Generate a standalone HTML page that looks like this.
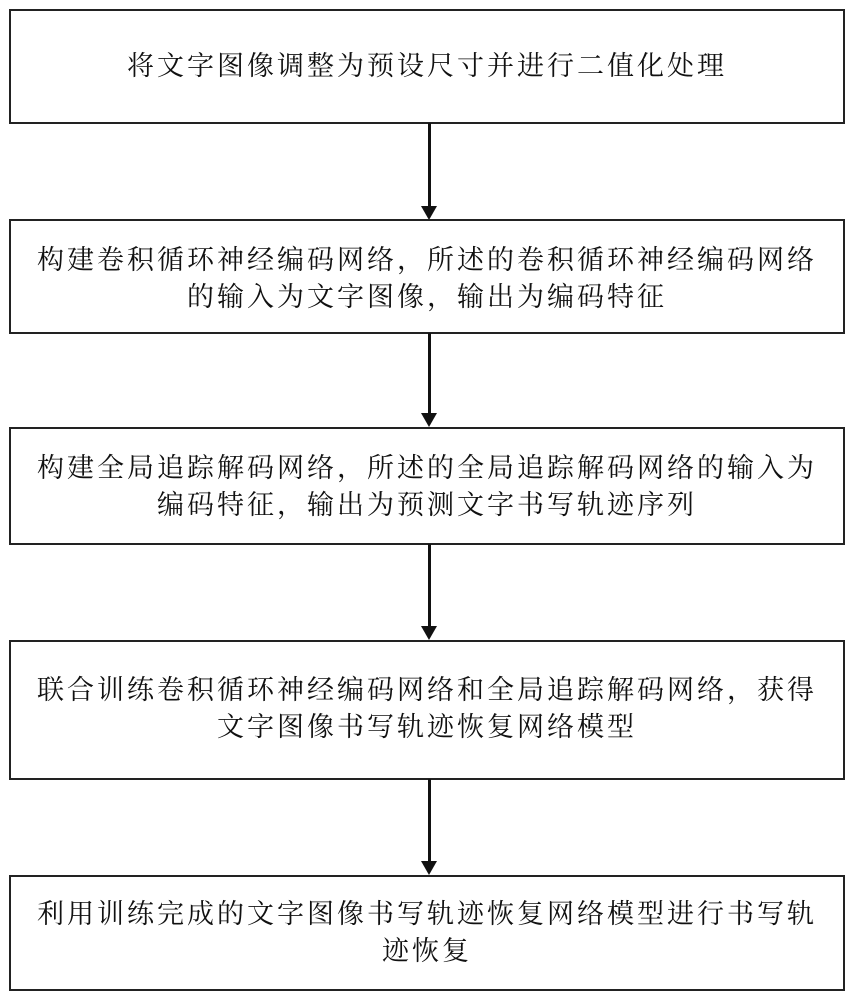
<!DOCTYPE html>
<html><head><meta charset="utf-8"><style>
body{margin:0;width:858px;height:1000px;background:#fff;position:relative;overflow:hidden;font-family:"Liberation Serif","Noto Serif CJK SC","Noto Sans CJK SC",serif;}
.b{position:absolute;left:9px;width:836px;border:2px solid #222;box-sizing:border-box;}
.t{position:absolute;left:0;width:100%;text-align:center;font-size:27px;letter-spacing:3px;color:#111;line-height:37px;white-space:nowrap;}
.l{position:absolute;left:428px;width:3px;background:#111;}
.a{position:absolute;left:421px;width:0;height:0;border-left:8.5px solid transparent;border-right:8.5px solid transparent;border-top:14px solid #111;}
</style></head><body>
<div class="b" style="top:9px;height:115px"><div class="t" style="top:37px">将文字图像调整为预设尺寸并进行二值化处理</div></div>
<div class="l" style="top:123px;height:85px"></div><div class="a" style="top:206px"></div>
<div class="b" style="top:219px;height:115px"><div class="t" style="top:21px">构建卷积循环神经编码网络，所述的卷积循环神经编码网络<br>的输入为文字图像，输出为编码特征</div></div>
<div class="l" style="top:333px;height:82px"></div><div class="a" style="top:413px"></div>
<div class="b" style="top:427px;height:118px"><div class="t" style="top:21px">构建全局追踪解码网络，所述的全局追踪解码网络的输入为<br>编码特征，输出为预测文字书写轨迹序列</div></div>
<div class="l" style="top:544px;height:83px"></div><div class="a" style="top:626px"></div>
<div class="b" style="top:640px;height:140px"><div class="t" style="top:30px">联合训练卷积循环神经编码网络和全局追踪解码网络，获得<br>文字图像书写轨迹恢复网络模型</div></div>
<div class="l" style="top:779px;height:83px"></div><div class="a" style="top:861px"></div>
<div class="b" style="top:875px;height:116px"><div class="t" style="top:19px">利用训练完成的文字图像书写轨迹恢复网络模型进行书写轨<br>迹恢复</div></div>
</body></html>
